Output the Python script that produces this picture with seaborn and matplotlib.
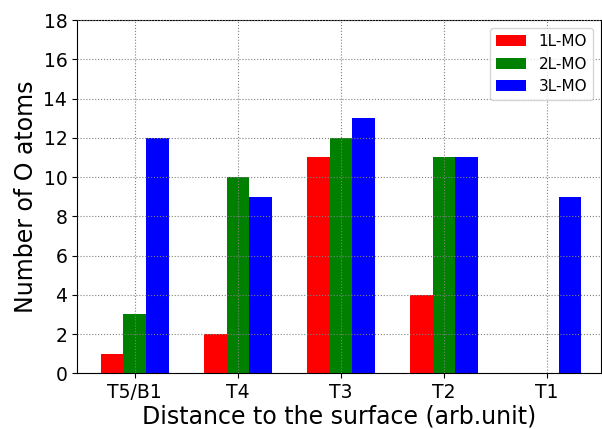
import numpy as np
import pandas as pd
import seaborn as sns
import matplotlib
matplotlib.use('Agg')
import matplotlib.pyplot as plt

categories = ['T5/B1', 'T4', 'T3', 'T2', 'T1']
series = ['1L-MO', '2L-MO', '3L-MO']
one_layer = [1, 2, 11, 4, 0]
two_layer = [3, 10, 12, 11, 0]
three_layer = [12, 9, 13, 11, 9]
colors = ['red', 'green', 'blue']

df = pd.DataFrame({
    'site': categories * 3,
    'model': [s for s in series for _ in categories],
    'count': one_layer + two_layer + three_layer,
})

# plain matplotlib look, no seaborn theme
plt.rcParams['font.family'] = ['DejaVu Sans']

fig, ax = plt.subplots(figsize=(6.02, 4.29), dpi=100)
sns.barplot(data=df, x='site', y='count', hue='model', order=categories,
            hue_order=series, palette=colors, saturation=1, width=0.66,
            gap=0, ax=ax, errorbar=None, linewidth=0, edgecolor='none')

ax.set_xlim(-0.56, 4.52)
ax.set_ylim(0, 18)
ax.set_yticks(range(0, 19, 2))
ax.grid(True, linestyle=':', color='gray', linewidth=0.8)
ax.set_axisbelow(False)
ax.tick_params(labelsize=13.5)
ax.set_xlabel('Distance to the surface (arb.unit)', fontsize=17, labelpad=1.5)
ax.set_ylabel('Number of O atoms', fontsize=17)
ax.legend(loc='upper right', fontsize=11, title=None)

fig.subplots_adjust(left=0.128, right=0.998, top=0.953, bottom=0.13)
fig.savefig('out.png', dpi=100)
